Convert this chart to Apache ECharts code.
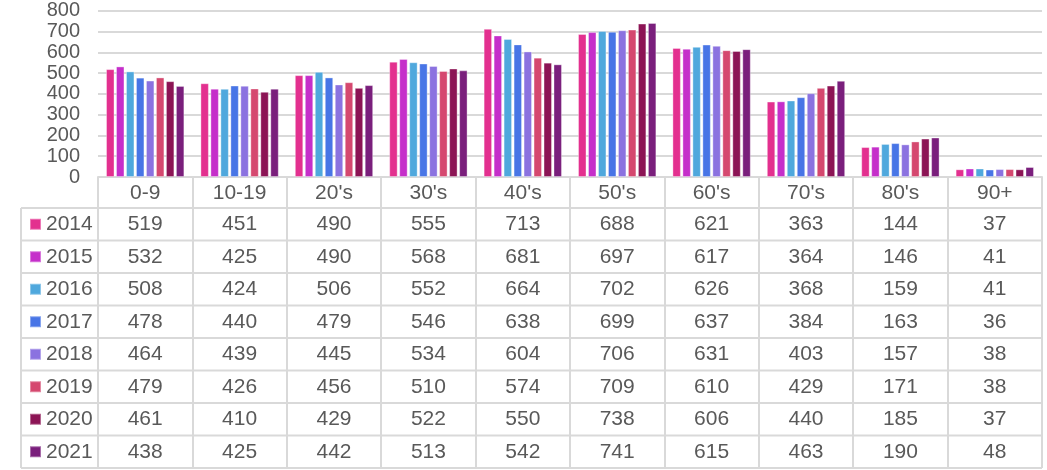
<!DOCTYPE html>
<html>
<head>
<meta charset="utf-8">
<script src="https://cdn.jsdelivr.net/npm/echarts@6/dist/echarts.min.js"></script>
<style>
  html, body { margin: 0; padding: 0; background: #fff; }
  #chart { width: 1047px; height: 470px; }
</style>
</head>
<body>
<div id="chart"></div>
<script>
var categories = ['0-9', '10-19', "20's", "30's", "40's", "50's", "60's", "70's", "80's", '90+'];
var years = ['2014', '2015', '2016', '2017', '2018', '2019', '2020', '2021'];
var colors = ['#e3308f', '#c52fca', '#4fa8dd', '#4875e6', '#8b72e0', '#d5486f', '#8c1455', '#7a1f7c'];

var v2014 = [519, 451, 490, 555, 713, 688, 621, 363, 144, 37];
var v2015 = [532, 425, 490, 568, 681, 697, 617, 364, 146, 41];
var v2016 = [508, 424, 506, 552, 664, 702, 626, 368, 159, 41];
var v2017 = [478, 440, 479, 546, 638, 699, 637, 384, 163, 36];
var v2018 = [464, 439, 445, 534, 604, 706, 631, 403, 157, 38];
var v2019 = [479, 426, 456, 510, 574, 709, 610, 429, 171, 38];
var v2020 = [461, 410, 429, 522, 550, 738, 606, 440, 185, 37];
var v2021 = [438, 425, 442, 513, 542, 741, 615, 463, 190, 48];
var yearValues = [v2014, v2015, v2016, v2017, v2018, v2019, v2020, v2021];

var yTicks = [0, 100, 200, 300, 400, 500, 600, 700, 800];

var myChart = echarts.init(document.getElementById('chart'));

var font = '"Liberation Sans", Arial, sans-serif';
var textColor = '#595959';
var lineColor = '#d9d9d9';

// table geometry
var plotLeft = 98, plotRight = 1042, axisY = 177;
var tableLeft = 21, headerBottom = 208, rowH = 32.5;

var xAxes = [{
    type: 'category',
    data: categories,
    gridIndex: 0,
    axisLine: { show: true, lineStyle: { color: lineColor, width: 2 } },
    axisTick: { show: true, interval: 0, length: 291, lineStyle: { color: lineColor, width: 2 } },
    axisLabel: {
        interval: 0, color: textColor, fontSize: 21, fontFamily: font,
        verticalAlign: 'middle', margin: 16
    }
}];

// one hidden axis per table row to place the numbers under each category
yearValues.forEach(function (vals, k) {
    xAxes.push({
        type: 'category',
        data: vals.map(String),
        gridIndex: 0,
        position: 'bottom',
        axisLine: { show: false },
        axisTick: { show: false },
        splitLine: { show: false },
        axisLabel: {
            interval: 0, color: textColor, fontSize: 21, fontFamily: font,
            verticalAlign: 'middle', margin: (headerBottom - axisY) + rowH * k + rowH / 2
        }
    });
});

var series = years.map(function (y, k) {
    return {
        name: y,
        type: 'bar',
        xAxisIndex: 0,
        data: yearValues[k],
        barGap: '18%',
        barCategoryGap: '17%',
        itemStyle: {
            color: colors[k],
            borderColor: 'rgba(255,255,255,0.35)',
            borderWidth: 1
        },
        emphasis: { disabled: true }
    };
});

// row headers: one legend per table row
var legends = years.map(function (y, k) {
    return {
        orient: 'vertical',
        left: 29,
        top: headerBottom + rowH * k + rowH / 2 - 11,
        padding: 0,
        itemWidth: 11,
        itemHeight: 11,
        itemGap: 0,
        icon: 'rect',
        selectedMode: false,
        data: [y],
        textStyle: { color: textColor, fontSize: 21, fontFamily: font, lineHeight: 22, padding: [0, 0, 0, 0] }
    };
});

var graphics = [];
for (var r = 0; r <= years.length; r++) {
    var yy = headerBottom + rowH * r;
    graphics.push({
        type: 'line',
        shape: { x1: tableLeft, y1: yy, x2: plotRight, y2: yy },
        style: { stroke: lineColor, lineWidth: 2 },
        silent: true
    });
}
graphics.push({
    type: 'line',
    shape: { x1: tableLeft, y1: headerBottom, x2: tableLeft, y2: headerBottom + rowH * years.length },
    style: { stroke: lineColor, lineWidth: 2 },
    silent: true
});

option = {
    animation: false,
    backgroundColor: '#fff',
    grid: {
        left: plotLeft,
        right: 1047 - plotRight,
        top: 10.7,
        bottom: 470 - axisY,
        containLabel: false
    },
    legend: legends,
    xAxis: xAxes,
    yAxis: {
        type: 'value',
        min: yTicks[0],
        max: yTicks[yTicks.length - 1],
        interval: 100,
        axisLine: { show: false },
        axisTick: { show: false },
        axisLabel: { color: textColor, fontSize: 20, fontFamily: font, margin: 18 },
        splitLine: { lineStyle: { color: lineColor, width: 2 } }
    },
    graphic: graphics,
    series: series
};

myChart.setOption(option);
</script>
</body>
</html>
